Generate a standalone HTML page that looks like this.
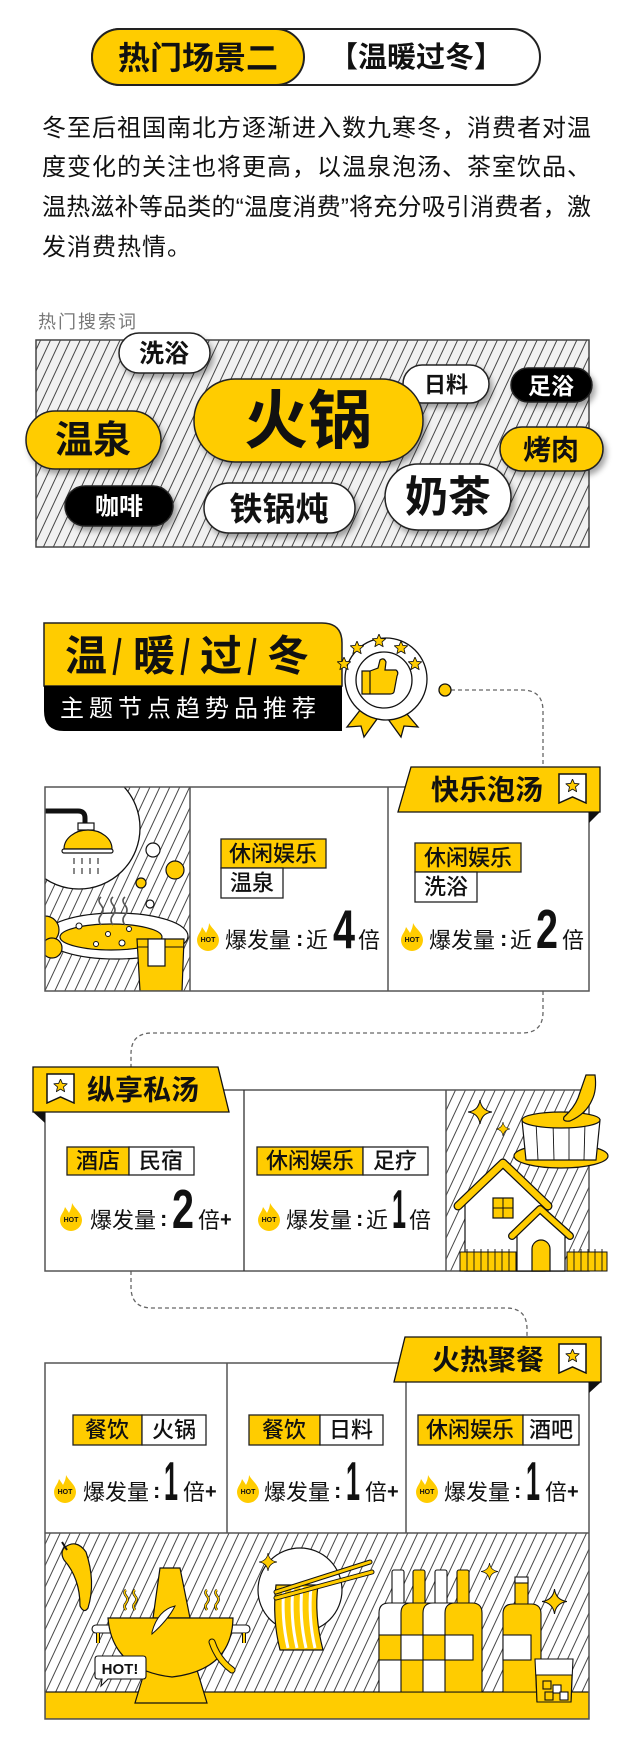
<!DOCTYPE html>
<html><head><meta charset="utf-8"><style>
html,body{margin:0;padding:0;background:#fff;width:632px;height:1756px;overflow:hidden}
svg{display:block}
text{font-family:"Liberation Sans","Noto Sans CJK SC",sans-serif;fill:#111}
.d{font-family:"Liberation Sans Narrow","Liberation Sans",sans-serif;font-weight:bold}
</style></head><body>
<svg width="632" height="1756" viewBox="0 0 632 1756" xmlns="http://www.w3.org/2000/svg">
<defs>
<pattern id="hg" width="9" height="9" patternUnits="userSpaceOnUse" patternTransform="rotate(25)"><rect width="9" height="9" fill="#f1f1f1"/><line x1="0.5" y1="0" x2="0.5" y2="9" stroke="#333" stroke-width="0.9"/></pattern>
<pattern id="hw" width="9" height="9" patternUnits="userSpaceOnUse" patternTransform="rotate(25)"><rect width="9" height="9" fill="#fff"/><line x1="0.5" y1="0" x2="0.5" y2="9" stroke="#333" stroke-width="0.9"/></pattern>
<filter id="sh" x="-20%" y="-30%" width="150%" height="180%"><feDropShadow dx="3" dy="4" stdDeviation="3" flood-color="#000" flood-opacity="0.35"/></filter>
<symbol id="star" viewBox="-1 -1 2 2"><polygon points="0,-1 0.264,-0.364 0.951,-0.309 0.428,0.139 0.588,0.809 0,0.45 -0.588,0.809 -0.428,0.139 -0.951,-0.309 -0.264,-0.364" fill="#FFCC00" stroke="#111" stroke-width="0.12" stroke-linejoin="round"/></symbol>
<symbol id="spark" viewBox="-1 -1 2 2"><path d="M0,-1 Q0.12,-0.12 1,0 Q0.12,0.12 0,1 Q-0.12,0.12 -1,0 Q-0.12,-0.12 0,-1Z" fill="#FFCC00" stroke="#111" stroke-width="0.08"/></symbol>
<symbol id="flame" viewBox="0 0 22 28"><path d="M12 0 C15 6 22 10 22 17 A11 11 0 0 1 0 17 C0 12 4 9 5 4 C7 7 8 8 9 10 C11 6 12 3 12 0Z" fill="#FFCC00"/></symbol>
<symbol id="bm" viewBox="0 0 29 31"><path d="M1 1 H28 V30 L14.5 24 L1 30 Z" fill="#fff" stroke="#111" stroke-width="1.5"/><use href="#star" x="7.5" y="6" width="14" height="14"/></symbol>
<clipPath id="c1"><rect x="45" y="787" width="145" height="204"/></clipPath>
<clipPath id="c3"><rect x="45" y="1533" width="544" height="186"/></clipPath>
</defs>

<rect x="92" y="29" width="448" height="56" rx="28" fill="#fff" stroke="#222" stroke-width="2"/>
<rect x="92" y="29" width="212" height="56" rx="28" fill="#FFCC00" stroke="#222" stroke-width="2"/>
<text x="198" y="58" font-size="32" font-weight="bold" text-anchor="middle" dominant-baseline="central">热门场景二</text>
<text x="416" y="58" font-size="29" font-weight="bold" text-anchor="middle" dominant-baseline="central">【温暖过冬】</text>

<g font-size="24" fill="#222">
<text x="42" y="136" textLength="549" lengthAdjust="spacing">冬至后祖国南北方逐渐进入数九寒冬，消费者对温</text>
<text x="42" y="175" textLength="549" lengthAdjust="spacing">度变化的关注也将更高，以温泉泡汤、茶室饮品、</text>
<text x="42" y="215" textLength="549" lengthAdjust="spacing">温热滋补等品类的“温度消费”将充分吸引消费者，激</text>
<text x="42" y="255" letter-spacing="1">发消费热情。</text>
</g>

<text x="38" y="328" font-size="18" style="fill:#777" letter-spacing="2">热门搜索词</text>
<rect x="36" y="340" width="553" height="207" fill="url(#hg)" stroke="#444" stroke-width="1.5"/>
<g filter="url(#sh)" stroke="#222" stroke-width="1.5">
<rect x="119" y="333" width="91" height="40" rx="20" fill="#fff"/>
<rect x="403" y="365" width="86" height="38" rx="19" fill="#fff"/>
<rect x="511" y="368" width="81" height="34" rx="17" fill="#000"/>
<rect x="26" y="411" width="135" height="58" rx="29" fill="#FFCC00"/>
<rect x="194" y="379" width="229" height="83" rx="41" fill="#FFCC00"/>
<rect x="500" y="427" width="103" height="44" rx="22" fill="#FFCC00"/>
<rect x="65" y="486" width="108" height="40" rx="20" fill="#000"/>
<rect x="204" y="483" width="151" height="50" rx="25" fill="#fff"/>
<rect x="385" y="464" width="126" height="66" rx="33" fill="#fff"/>
</g>
<g text-anchor="middle" dominant-baseline="central" font-weight="bold">
<text x="164" y="354" font-size="25">洗浴</text>
<text x="446" y="385" font-size="22">日料</text>
<text x="551" y="386" font-size="23" style="fill:#fff">足浴</text>
<text x="93" y="441" font-size="38">温泉</text>
<text x="308" y="421" font-size="64">火锅</text>
<text x="551" y="450" font-size="28">烤肉</text>
<text x="119" y="507" font-size="24" style="fill:#fff">咖啡</text>
<text x="279" y="509" font-size="33">铁锅炖</text>
<text x="448" y="498" font-size="43">奶茶</text>
</g>

<path d="M44 623 H322 Q342 623 342 643 V686 H44 Z" fill="#FFCC00" stroke="#222" stroke-width="1.5"/>
<path d="M44 686 H342 V731 H64 Q44 731 44 711 Z" fill="#000"/>
<g font-size="42" font-weight="bold" dominant-baseline="central" text-anchor="middle">
<text x="86" y="656">温</text><text x="154" y="656">暖</text><text x="221" y="656">过</text><text x="288" y="656">冬</text>
</g>
<g stroke="#111" stroke-width="3"><line x1="120" y1="638" x2="114" y2="675"/><line x1="188" y1="638" x2="182" y2="675"/><line x1="255" y1="638" x2="249" y2="675"/></g>
<text x="60" y="709" font-size="24" letter-spacing="5" dominant-baseline="central" style="fill:#fff">主题节点趋势品推荐</text>

<polygon points="368,700 347,727 361,726 364,737 385,708" fill="#FFCC00" stroke="#111" stroke-width="1.3"/>
<polygon points="395,700 418,727 404,726 401,737 380,708" fill="#FFCC00" stroke="#111" stroke-width="1.3"/>
<circle cx="386" cy="679" r="41" fill="#fff" stroke="#111" stroke-width="1.3"/>
<circle cx="384" cy="680" r="28" fill="#fff" stroke="#111" stroke-width="1.3"/>
<use href="#star" x="337" y="657" width="14" height="14"/>
<use href="#star" x="350" y="641" width="14" height="14"/>
<use href="#star" x="372" y="634" width="14" height="14"/>
<use href="#star" x="394" y="641" width="14" height="14"/>
<use href="#star" x="408" y="657" width="14" height="14"/>
<path d="M362 671 H370 V694 H362 Z M370 671 L378 668 L380 660 Q384 657 386 662 L385 670 H396 Q399 672 397 676 L394 692 Q393 694 390 694 H370 Z" fill="#FFCC00" stroke="#111" stroke-width="1.2"/>

<g fill="none" stroke="#666" stroke-width="1.3" stroke-dasharray="4 3">
<path d="M451 690 H522 Q543 690 543 711 V767"/>
<path d="M543 991 V1012 Q543 1033 522 1033 H152 Q131 1033 131 1054 V1067"/>
<path d="M131 1271 V1287 Q131 1308 152 1308 H506 Q527 1308 527 1329 V1337"/>
</g>
<circle cx="445" cy="690" r="6" fill="#FFCC00" stroke="#111" stroke-width="1.3"/>

<g clip-path="url(#c1)">
<rect x="45" y="787" width="145" height="204" fill="url(#hw)"/>
<circle cx="79" cy="828" r="61" fill="#fff" stroke="#111" stroke-width="1.3"/>
<path d="M45 811 H78 Q85 811 85 818 V824" fill="none" stroke="#111" stroke-width="5"/>
<rect x="78" y="823" width="16" height="7" fill="#fff" stroke="#111" stroke-width="1.2"/>
<path d="M64 849 A24 19 0 0 1 112 849 Z" fill="#FFCC00" stroke="#111" stroke-width="1.2"/>
<rect x="62" y="849" width="51" height="4" rx="2" fill="#fff" stroke="#111" stroke-width="1.2"/>
<g stroke="#111" stroke-width="1"><line x1="74" y1="858" x2="74" y2="864"/><line x1="82" y1="858" x2="82" y2="864"/><line x1="90" y1="858" x2="90" y2="864"/><line x1="98" y1="858" x2="98" y2="864"/><line x1="74" y1="868" x2="74" y2="874"/><line x1="82" y1="868" x2="82" y2="874"/><line x1="90" y1="868" x2="90" y2="874"/><line x1="98" y1="868" x2="98" y2="874"/></g>
<circle cx="153" cy="850" r="7" fill="#fff" stroke="#111" stroke-width="1.2"/>
<circle cx="175" cy="870" r="9" fill="#FFCC00" stroke="#111" stroke-width="1.2"/>
<circle cx="141" cy="883" r="5" fill="#FFCC00" stroke="#111" stroke-width="1.2"/>
<circle cx="150" cy="904" r="4" fill="#fff" stroke="#111" stroke-width="1.2"/>
<ellipse cx="116" cy="936" rx="72" ry="23" fill="#fff" stroke="#111" stroke-width="1.2"/>
<ellipse cx="111" cy="937" rx="51" ry="13" fill="#FFCC00" stroke="#111" stroke-width="1.2"/>
<g fill="none" stroke="#555" stroke-width="1.6"><path d="M101 925 q-4 -5 0 -10 q4 -5 0 -10 q-4 -5 0 -8"/><path d="M113 925 q-4 -5 0 -10 q4 -5 0 -10 q-4 -5 0 -8"/><path d="M125 925 q-4 -5 0 -10 q4 -5 0 -10 q-4 -5 0 -8"/></g>
<circle cx="79" cy="926" r="3" fill="#fff" stroke="#111"/><circle cx="108" cy="934" r="2.5" fill="#fff" stroke="#111"/><circle cx="96" cy="944" r="2.5" fill="#fff" stroke="#111"/><circle cx="122" cy="943" r="3" fill="#fff" stroke="#111"/><circle cx="129" cy="929" r="2.5" fill="#fff" stroke="#111"/>
<circle cx="45" cy="930" r="14" fill="#FFCC00" stroke="#111" stroke-width="1.2"/>
<circle cx="52" cy="948" r="10" fill="#FFCC00" stroke="#111" stroke-width="1.2"/>
<path d="M137 939 H184 L182 991 H140 Z" fill="#FFCC00" stroke="#111" stroke-width="1.2"/>
<line x1="138" y1="947" x2="183" y2="947" stroke="#111" stroke-width="1"/>
<rect x="148" y="939" width="17" height="27" fill="#fff" stroke="#111" stroke-width="1.2"/>
</g>
<rect x="45" y="787" width="544" height="204" fill="none" stroke="#555" stroke-width="1.5"/>
<line x1="190" y1="787" x2="190" y2="991" stroke="#555" stroke-width="1.5"/>
<line x1="388" y1="787" x2="388" y2="991" stroke="#555" stroke-width="1.5"/>
<polygon points="411,767 600,767 600,812 398,812" fill="#FFCC00" stroke="#111" stroke-width="1.3"/>
<polygon points="589,812 600,812 589,823" fill="#111"/>
<text x="487" y="790" font-size="28" font-weight="bold" text-anchor="middle" dominant-baseline="central">快乐泡汤</text>
<use href="#bm" x="558" y="773" width="29" height="31"/>

<g stroke="#222" stroke-width="1.3">
<rect x="221" y="839" width="105" height="29" fill="#FFCC00"/><rect x="221" y="868" width="62" height="30" fill="#fff"/>
<rect x="415" y="843" width="106" height="29" fill="#FFCC00"/><rect x="415" y="872" width="62" height="30" fill="#fff"/>
<rect x="67" y="1147" width="62" height="28" fill="#FFCC00"/><rect x="129" y="1147" width="65" height="28" fill="#fff"/>
<rect x="257" y="1147" width="106" height="28" fill="#FFCC00"/><rect x="363" y="1147" width="65" height="28" fill="#fff"/>
</g>
<g font-size="22" font-weight="500" text-anchor="middle" dominant-baseline="central">
<text x="273" y="854">休闲娱乐</text><text x="252" y="883">温泉</text>
<text x="468" y="858">休闲娱乐</text><text x="446" y="887">洗浴</text>
</g>

<use href="#flame" x="197" y="923" width="22" height="28"/><text x="208" y="942" font-size="7" font-weight="bold" text-anchor="middle">HOT</text>
<text x="225" y="948" font-size="22">爆发量</text><text x="296" y="946" font-size="22" font-weight="bold">:</text><text x="306" y="948" font-size="22">近</text><text class="d" x="333" y="948" font-size="55" textLength="22" lengthAdjust="spacingAndGlyphs">4</text><text x="358" y="948" font-size="22">倍</text>
<use href="#flame" x="401" y="923" width="22" height="28"/><text x="412" y="942" font-size="7" font-weight="bold" text-anchor="middle">HOT</text>
<text x="429" y="948" font-size="22">爆发量</text><text x="500" y="946" font-size="22" font-weight="bold">:</text><text x="510" y="948" font-size="22">近</text><text class="d" x="536" y="948" font-size="55" textLength="22" lengthAdjust="spacingAndGlyphs">2</text><text x="562" y="948" font-size="22">倍</text>

<rect x="446" y="1090" width="143" height="181" fill="url(#hw)"/>
<rect x="45" y="1090" width="544" height="181" fill="none" stroke="#555" stroke-width="1.5"/>
<line x1="244" y1="1090" x2="244" y2="1271" stroke="#333" stroke-width="1.3"/>
<line x1="446" y1="1090" x2="446" y2="1271" stroke="#555" stroke-width="1.5"/>
<g font-size="22" font-weight="500" text-anchor="middle" dominant-baseline="central">
<text x="98" y="1161">酒店</text><text x="161" y="1161">民宿</text>
<text x="310" y="1161">休闲娱乐</text><text x="395" y="1161">足疗</text>
</g>
<use href="#flame" x="60" y="1203" width="22" height="28"/><text x="71" y="1222" font-size="7" font-weight="bold" text-anchor="middle">HOT</text>
<text x="90" y="1228" font-size="22">爆发量</text><text x="160" y="1226" font-size="22" font-weight="bold">:</text><text class="d" x="172" y="1228" font-size="55" textLength="22" lengthAdjust="spacingAndGlyphs">2</text><text x="198" y="1228" font-size="22">倍</text><text x="220" y="1226" font-size="20" font-weight="bold">+</text>
<use href="#flame" x="258" y="1203" width="22" height="28"/><text x="269" y="1222" font-size="7" font-weight="bold" text-anchor="middle">HOT</text>
<text x="286" y="1228" font-size="22">爆发量</text><text x="356" y="1226" font-size="22" font-weight="bold">:</text><text x="366" y="1228" font-size="22">近</text><text class="d" x="392" y="1228" font-size="55" textLength="14" lengthAdjust="spacingAndGlyphs">1</text><text x="409" y="1228" font-size="22">倍</text>

<use href="#spark" x="468" y="1100" width="24" height="24"/>
<use href="#spark" x="496" y="1122" width="14" height="14"/>
<ellipse cx="561" cy="1156" rx="47" ry="12" fill="#FFCC00" stroke="#111" stroke-width="1.2"/>
<path d="M522 1120 L526 1160 H596 L600 1120 Z" fill="#fff" stroke="#111" stroke-width="1.2"/>
<g stroke="#111" stroke-width="0.9"><line x1="536" y1="1122" x2="538" y2="1160"/><line x1="553" y1="1122" x2="554" y2="1160"/><line x1="569" y1="1122" x2="569" y2="1160"/><line x1="585" y1="1122" x2="584" y2="1160"/></g>
<ellipse cx="561" cy="1120" rx="39" ry="8" fill="#FFCC00" stroke="#111" stroke-width="1.2"/>
<path d="M586 1075 H595 Q597 1090 592 1100 Q586 1114 570 1121 Q562 1122 564 1117 Q574 1108 578 1098 Z" fill="#FFCC00" stroke="#111" stroke-width="1.2"/>
<path d="M465 1200 L503 1168 L545 1205 V1271 H465 Z" fill="#fff" stroke="#111" stroke-width="1.2"/>
<path d="M458 1206 L503 1163 L548 1206" fill="none" stroke="#111" stroke-width="9" stroke-linecap="round" stroke-linejoin="round"/>
<path d="M458 1206 L503 1163 L548 1206" fill="none" stroke="#FFCC00" stroke-width="6.5" stroke-linecap="round" stroke-linejoin="round"/>
<rect x="493" y="1198" width="20" height="20" fill="#FFCC00" stroke="#111" stroke-width="1.2"/>
<path d="M503 1198 V1218 M493 1208 H513" stroke="#111" stroke-width="1"/>
<path d="M517 1232 L540 1212 L565 1232 V1271 H517 Z" fill="#fff" stroke="#111" stroke-width="1.2"/>
<path d="M512 1236 L540 1209 L570 1236" fill="none" stroke="#111" stroke-width="8" stroke-linecap="round" stroke-linejoin="round"/>
<path d="M512 1236 L540 1209 L570 1236" fill="none" stroke="#FFCC00" stroke-width="5.5" stroke-linecap="round" stroke-linejoin="round"/>
<path d="M532 1271 V1249 A9 9 0 0 1 550 1249 V1271 Z" fill="#FFCC00" stroke="#111" stroke-width="1.2"/>
<rect x="460" y="1252" width="56" height="19" fill="#FFCC00" stroke="#111" stroke-width="1"/>
<rect x="567" y="1252" width="40" height="19" fill="#FFCC00" stroke="#111" stroke-width="1"/>
<g stroke="#111" stroke-width="0.9"><path d="M467 1249 V1271 M474 1249 V1271 M481 1249 V1271 M488 1249 V1271 M495 1249 V1271 M502 1249 V1271 M509 1249 V1271 M574 1249 V1271 M581 1249 V1271 M588 1249 V1271 M595 1249 V1271 M602 1249 V1271"/></g>
<polygon points="33,1067 218,1067 229,1112 33,1112" fill="#FFCC00" stroke="#111" stroke-width="1.3"/>
<polygon points="33,1112 45,1112 45,1123" fill="#111"/>
<use href="#bm" x="46" y="1073" width="29" height="31"/>
<text x="143" y="1090" font-size="28" font-weight="bold" text-anchor="middle" dominant-baseline="central">纵享私汤</text>

<g clip-path="url(#c3)">
<rect x="45" y="1533" width="544" height="186" fill="url(#hw)"/>
<rect x="45" y="1692" width="544" height="27" fill="#FFCC00" stroke="#111" stroke-width="1.2"/>
<path d="M64 1548 Q76 1538 86 1552 Q96 1582 88 1608 Q84 1614 80 1606 Q80 1578 64 1560 Q60 1553 64 1548Z" fill="#FFCC00" stroke="#111" stroke-width="1.2"/>
<path d="M62 1542 L67 1550" stroke="#111" stroke-width="2"/>
<rect x="92" y="1625" width="158" height="8" rx="4" fill="#fff" stroke="#111" stroke-width="1.1"/>
<path d="M98 1633 V1643 M244 1633 V1643" stroke="#111" stroke-width="4"/>
<path d="M98 1633 V1643 M244 1633 V1643" stroke="#FFCC00" stroke-width="2"/>
<path d="M160 1568 H180 L190 1618 H153 Z" fill="#FFCC00" stroke="#111" stroke-width="1.2"/>
<path d="M145 1670 H197 L207 1703 H135 Z" fill="#FFCC00" stroke="#111" stroke-width="1.2"/>
<path d="M108 1618 H233 Q232 1670 172 1677 Q112 1670 108 1618 Z" fill="#FFCC00" stroke="#111" stroke-width="1.2"/>
<path d="M152 1632 Q158 1610 175 1606 Q168 1620 152 1634 Z" fill="#fff" stroke="#111" stroke-width="1"/>
<path d="M212 1642 Q218 1660 232 1670" fill="none" stroke="#111" stroke-width="7" stroke-linecap="round"/>
<path d="M212 1642 Q218 1660 232 1670" fill="none" stroke="#FFCC00" stroke-width="5" stroke-linecap="round"/>
<g fill="none" stroke="#111" stroke-width="2.6"><path d="M126 1610 q-3 -4 0 -7 q3 -4 0 -7 q-3 -4 0 -6"/><path d="M135 1610 q-3 -4 0 -7 q3 -4 0 -7 q-3 -4 0 -6"/><path d="M207 1610 q-3 -4 0 -7 q3 -4 0 -7 q-3 -4 0 -6"/><path d="M217 1610 q-3 -4 0 -7 q3 -4 0 -7 q-3 -4 0 -6"/></g>
<g fill="none" stroke="#FFCC00" stroke-width="1.4"><path d="M126 1610 q-3 -4 0 -7 q3 -4 0 -7 q-3 -4 0 -6"/><path d="M135 1610 q-3 -4 0 -7 q3 -4 0 -7 q-3 -4 0 -6"/><path d="M207 1610 q-3 -4 0 -7 q3 -4 0 -7 q-3 -4 0 -6"/><path d="M217 1610 q-3 -4 0 -7 q3 -4 0 -7 q-3 -4 0 -6"/></g>
<path d="M98 1656 H143 Q146 1656 146 1659 V1676 Q146 1679 143 1679 H108 L101 1686 L102 1679 H98 Q95 1679 95 1676 V1659 Q95 1656 98 1656Z" fill="#fff" stroke="#111" stroke-width="1.1"/>
<text x="120" y="1674" font-size="15" font-weight="bold" text-anchor="middle">HOT!</text>
<circle cx="300" cy="1590" r="42" fill="#fff" stroke="#111" stroke-width="1.2"/>
<use href="#spark" x="259" y="1553" width="18" height="18"/>
<path d="M276 1585 H318 Q314 1615 323 1650 H280 Q272 1618 276 1585 Z" fill="#FFCC00" stroke="#111" stroke-width="1.2"/>
<g stroke="#fff" stroke-width="3" fill="none"><path d="M284 1587 Q281 1618 288 1648"/><path d="M293 1587 Q290 1618 297 1648"/><path d="M302 1587 Q299 1618 306 1648"/><path d="M311 1587 Q308 1618 315 1648"/></g>
<path d="M276 1592 L370 1562 M276 1598 L372 1572" stroke="#111" stroke-width="5" stroke-linecap="round"/>
<path d="M276 1592 L370 1562 M276 1598 L372 1572" stroke="#FFCC00" stroke-width="3" stroke-linecap="round"/>
<use href="#spark" x="481" y="1563" width="17" height="17"/>
<use href="#spark" x="542" y="1589" width="25" height="25"/>
<g stroke="#111" stroke-width="1.1">
<rect x="392" y="1570" width="12" height="36" rx="2" fill="#fff"/>
<rect x="413" y="1570" width="12" height="36" rx="2" fill="#FFCC00"/>
<rect x="435" y="1570" width="12" height="36" rx="2" fill="#fff"/>
<rect x="457" y="1570" width="12" height="36" rx="2" fill="#FFCC00"/>
<path d="M379 1692 V1613 Q379 1603 389 1603 H407 Q417 1603 417 1613 V1692 Z" fill="#fff"/>
<path d="M401 1692 V1613 Q401 1603 411 1603 H429 Q439 1603 439 1613 V1692 Z" fill="#FFCC00"/>
<path d="M423 1692 V1613 Q423 1603 433 1603 H451 Q461 1603 461 1613 V1692 Z" fill="#fff"/>
<path d="M445 1692 V1613 Q445 1603 455 1603 H472 Q482 1603 482 1613 V1692 Z" fill="#FFCC00"/>
<rect x="379" y="1635" width="22" height="25" fill="#FFCC00"/>
<rect x="401" y="1635" width="22" height="25" fill="#fff"/>
<rect x="423" y="1635" width="22" height="25" fill="#FFCC00"/>
<rect x="445" y="1635" width="28" height="25" fill="#fff"/>
<rect x="515" y="1577" width="13" height="28" rx="2" fill="#FFCC00"/>
<rect x="515" y="1577" width="13" height="6" fill="#fff"/>
<path d="M503 1692 V1614 Q503 1604 513 1604 H531 Q541 1604 541 1614 V1692 Z" fill="#FFCC00"/>
<rect x="503" y="1635" width="28" height="25" fill="#fff"/>
<path d="M535 1659 H573 L571 1702 H537 Z" fill="#fff"/>
<path d="M536 1675 H572 L571 1702 H537 Z" fill="#FFCC00"/>
<rect x="543" y="1681" width="8" height="8" fill="#FFCC00"/><rect x="553" y="1685" width="8" height="8" fill="#fff"/><rect x="545" y="1692" width="8" height="8" fill="#FFCC00"/><rect x="560" y="1692" width="8" height="8" fill="#fff"/>
</g>
</g>
<rect x="45" y="1363" width="544" height="356" fill="none" stroke="#555" stroke-width="1.5"/>
<line x1="45" y1="1533" x2="589" y2="1533" stroke="#555" stroke-width="1.5"/>
<line x1="227" y1="1363" x2="227" y2="1533" stroke="#555" stroke-width="1.5"/>
<line x1="406" y1="1363" x2="406" y2="1533" stroke="#555" stroke-width="1.5"/>
<polygon points="405,1337 601,1337 601,1382 394,1382" fill="#FFCC00" stroke="#111" stroke-width="1.3"/>
<polygon points="589,1382 601,1382 589,1393" fill="#111"/>
<text x="488" y="1360" font-size="28" font-weight="bold" text-anchor="middle" dominant-baseline="central">火热聚餐</text>
<use href="#bm" x="558" y="1343" width="29" height="31"/>
<g stroke="#222" stroke-width="1.3">
<rect x="73" y="1415" width="69" height="30" fill="#FFCC00"/><rect x="142" y="1415" width="64" height="30" fill="#fff"/>
<rect x="249" y="1415" width="71" height="30" fill="#FFCC00"/><rect x="320" y="1415" width="63" height="30" fill="#fff"/>
<rect x="418" y="1415" width="105" height="30" fill="#FFCC00"/><rect x="523" y="1415" width="56" height="30" fill="#fff"/>
</g>
<g font-size="22" font-weight="500" text-anchor="middle" dominant-baseline="central">
<text x="107" y="1430">餐饮</text><text x="174" y="1430">火锅</text>
<text x="284" y="1430">餐饮</text><text x="351" y="1430">日料</text>
<text x="470" y="1430">休闲娱乐</text><text x="551" y="1430">酒吧</text>
</g>
<use href="#flame" x="54" y="1475" width="22" height="28"/><text x="65" y="1494" font-size="7" font-weight="bold" text-anchor="middle">HOT</text>
<text x="83" y="1500" font-size="22">爆发量</text><text x="153" y="1498" font-size="22" font-weight="bold">:</text><text class="d" x="164" y="1500" font-size="55" textLength="14" lengthAdjust="spacingAndGlyphs">1</text><text x="183" y="1500" font-size="22">倍</text><text x="205" y="1498" font-size="20" font-weight="bold">+</text>
<use href="#flame" x="237" y="1475" width="22" height="28"/><text x="248" y="1494" font-size="7" font-weight="bold" text-anchor="middle">HOT</text>
<text x="264" y="1500" font-size="22">爆发量</text><text x="334" y="1498" font-size="22" font-weight="bold">:</text><text class="d" x="346" y="1500" font-size="55" textLength="14" lengthAdjust="spacingAndGlyphs">1</text><text x="365" y="1500" font-size="22">倍</text><text x="387" y="1498" font-size="20" font-weight="bold">+</text>
<use href="#flame" x="416" y="1475" width="22" height="28"/><text x="427" y="1494" font-size="7" font-weight="bold" text-anchor="middle">HOT</text>
<text x="444" y="1500" font-size="22">爆发量</text><text x="514" y="1498" font-size="22" font-weight="bold">:</text><text class="d" x="526" y="1500" font-size="55" textLength="14" lengthAdjust="spacingAndGlyphs">1</text><text x="545" y="1500" font-size="22">倍</text><text x="567" y="1498" font-size="20" font-weight="bold">+</text>
</svg>
</body></html>
